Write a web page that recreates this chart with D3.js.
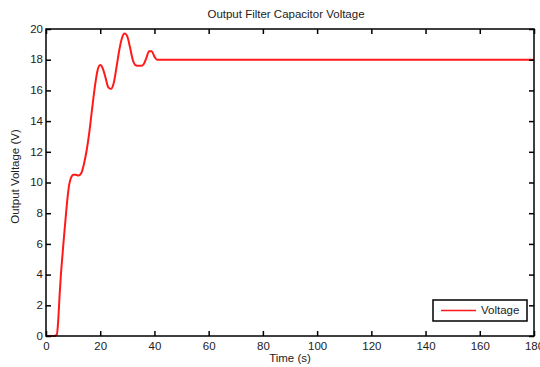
<!DOCTYPE html>
<html>
<head>
<meta charset="utf-8">
<script src="https://cdn.jsdelivr.net/npm/d3@7"></script>
<style>
html,body{margin:0;padding:0;background:#fff;}
svg{display:block;}
text{font-family:"Liberation Sans",Arial,Helvetica,sans-serif;fill:#222;}
</style>
</head>
<body>
<svg id="chart" width="540" height="367"></svg>
<script>
const title = "Output Filter Capacitor Voltage";
const xLabel = "Time (s)";
const yLabel = "Output Voltage (V)";
const seriesName = "Voltage";
const xTicks = [0,20,40,60,80,100,120,140,160,180];
const yTicks = [0,2,4,6,8,10,12,14,16,18,20];
const time = [0,2,3,4,4.5,5,5.5,6,6.5,7,7.5,8,8.5,9,9.5,10,11,12,13,14,15,16,17,18,19,20,21,22,23,24,25,26,27,28,29,30,31,32,33,34,35,36,37,38,39,40,41,42,50,100,180];
const voltage = [0,0,0,0.1,1.0,2.6,4.0,5.1,6.2,7.2,8.2,9.1,9.8,10.2,10.4,10.5,10.5,10.45,10.6,11.2,12.1,13.3,14.8,16.2,17.3,17.65,17.4,16.8,16.2,16.1,16.5,17.5,18.6,19.4,19.7,19.5,18.8,18.0,17.65,17.6,17.6,17.7,18.1,18.55,18.55,18.2,18.0,18.0,18.0,18.0,18.0];

(function(){
const svg = d3.select("#chart");
const m = {left:46, right:534, top:29, bottom:336};
const x = d3.scaleLinear().domain([0,180]).range([m.left,m.right]);
const y = d3.scaleLinear().domain([0,20]).range([m.bottom,m.top]);
const SX = 1.15;

const data = time.map((t,i)=>({t, v:voltage[i]}));

svg.append("path")
  .datum(data)
  .attr("fill","none")
  .attr("stroke","#ff1a1a")
  .attr("stroke-width",2)
  .attr("stroke-linejoin","round")
  .attr("d", d3.line().x(d=>x(d.t)).y(d=>y(d.v)).curve(d3.curveMonotoneX));

function styleAxis(g){
  g.select(".domain").remove();
  g.selectAll(".tick line").attr("stroke","#000").attr("stroke-width",1.5);
  g.selectAll(".tick text").attr("font-size",10).style("fill","#222");
}

const gBottom = svg.append("g").attr("transform",`translate(0,${m.bottom})`)
  .call(d3.axisBottom(x).tickValues(xTicks).tickSizeInner(-5).tickSizeOuter(0).tickPadding(7));
styleAxis(gBottom);
gBottom.selectAll(".tick text").attr("transform",`scale(${SX},1)`);

const gTop = svg.append("g").attr("transform",`translate(0,${m.top})`)
  .call(d3.axisTop(x).tickValues(xTicks).tickSizeInner(-5).tickSizeOuter(0).tickFormat(""));
styleAxis(gTop);

const gLeft = svg.append("g").attr("transform",`translate(${m.left},0)`)
  .call(d3.axisLeft(y).tickValues(yTicks).tickSizeInner(-5).tickSizeOuter(0).tickPadding(3));
styleAxis(gLeft);
gLeft.selectAll(".tick text").attr("transform",`scale(${SX},1)`).attr("x",-3/SX);

const gRight = svg.append("g").attr("transform",`translate(${m.right},0)`)
  .call(d3.axisRight(y).tickValues(yTicks).tickSizeInner(-5).tickSizeOuter(0).tickFormat(""));
styleAxis(gRight);

svg.append("rect").attr("x",m.left).attr("y",m.top)
  .attr("width",m.right-m.left).attr("height",m.bottom-m.top)
  .attr("fill","none").attr("stroke","#000").attr("stroke-width",1.5);

svg.append("text").attr("transform",`translate(${(m.left+m.right)/2-4},18) scale(${SX},1)`)
  .attr("text-anchor","middle").attr("font-size",10).text(title);
svg.append("text").attr("transform",`translate(${(m.left+m.right)/2},362) scale(${SX},1)`)
  .attr("text-anchor","middle").attr("font-size",10).text(xLabel);
svg.append("text").attr("transform",`translate(19,${(m.top+m.bottom)/2-6}) rotate(-90) scale(${SX},1)`)
  .attr("text-anchor","middle").attr("font-size",10).text(yLabel);

const lg = svg.append("g");
lg.append("rect").attr("x",433).attr("y",300).attr("width",94).attr("height",21)
  .attr("fill","#fff").attr("stroke","#000").attr("stroke-width",1.5);
lg.append("line").attr("x1",441).attr("x2",476).attr("y1",310.5).attr("y2",310.5)
  .attr("stroke","#ff1a1a").attr("stroke-width",1.5);
lg.append("text").attr("transform",`translate(481,314) scale(${SX},1)`)
  .attr("font-size",10).text(seriesName);
})();
</script>
</body>
</html>
